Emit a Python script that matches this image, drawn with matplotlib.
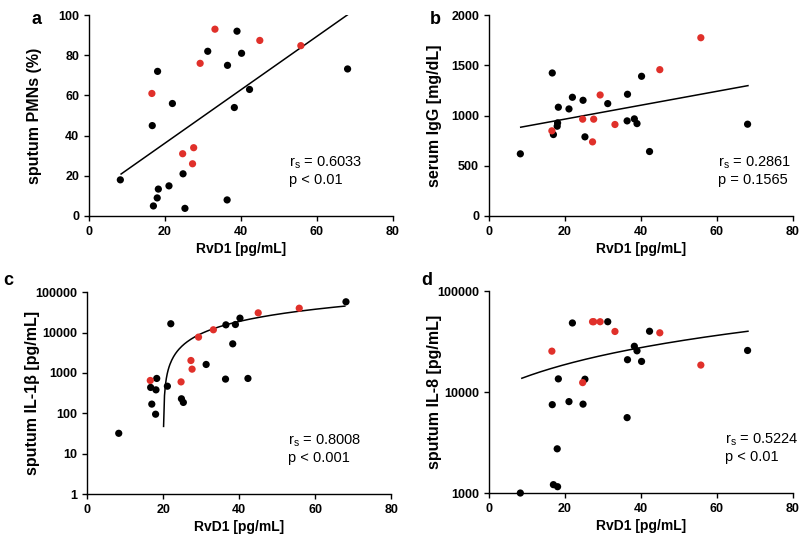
import numpy as np
import matplotlib
matplotlib.use("Agg")
import matplotlib.pyplot as plt

plt.rcParams["font.family"] = ["Liberation Sans", "DejaVu Sans"]

# RvD1 values (pg/mL) shared by all panels
rvd1_black = [8.3, 16.7, 17.0, 18.0, 18.1, 18.3, 21.1, 22.0, 24.8, 25.3,
              31.3, 36.4, 36.5, 38.3, 39.0, 40.2, 42.3, 68.1]
rvd1_red = [16.6, 24.7, 27.3, 27.6, 29.3, 33.2, 45.0, 55.8]

# panel a: sputum PMNs (%)
pmn_black = [18, 45, 5, 9, 72, 13.4, 15, 56, 21, 3.8,
             82, 8, 75, 54, 92, 81, 63, 73.2]
pmn_red = [61, 31, 26, 34, 76, 93, 87.4, 84.8]

# panel b: serum IgG (mg/dL)
igg_black = [619, 1424, 811, 894, 927, 1083, 1066, 1182, 1152, 788,
             1119, 947, 1212, 967, 920, 1391, 642, 914]
igg_red = [848, 964, 738, 964, 1205, 911, 1457, 1775]

# panel c: sputum IL-1b (pg/mL)
il1b_black = [32, 437, 169, 95, 381, 730, 469, 16500, 229, 186,
              1620, 703, 15500, 5250, 15800, 22700, 730, 57700]
il1b_red = [650, 600, 2030, 1240, 7700, 11700, 30700, 40000]

# panel d: sputum IL-8 (pg/mL)
il8_black = [1000, 7500, 1210, 2740, 1155, 13500, 8040, 48300, 7590, 13400,
             49700, 5580, 20900, 28400, 25600, 20100, 40000, 25800]
il8_red = [25400, 12400, 49700, 49700, 49700, 39800, 38600, 18500]

# linear fits: (slope, intercept, x start, x end)
fit_a = (1.33, 9.6, 8.5, 68.4)
fit_b = (6.92, 826, 8.4, 68.2)
fit_c = (944, -18927, 20.1, 67.8)
fit_d = (442, 9855, 8.7, 68.2)

RED = "#e0302a"

fig = plt.figure(figsize=(8, 5.4), dpi=100)
ax_a = fig.add_axes([0.111, 0.600, 0.380, 0.372])
ax_b = fig.add_axes([0.611, 0.600, 0.380, 0.372])
ax_c = fig.add_axes([0.109, 0.085, 0.380, 0.374])
ax_d = fig.add_axes([0.611, 0.087, 0.380, 0.374])

panels = [
    (ax_a, pmn_black, pmn_red, fit_a, "sputum PMNs (%)",
     ["r$_\\mathregular{s}$ = 0.6033", "p < 0.01"], 0.66),
    (ax_b, igg_black, igg_red, fit_b, "serum IgG [mg/dL]",
     ["r$_\\mathregular{s}$ = 0.2861", "p = 0.1565"], 0.753),
    (ax_c, il1b_black, il1b_red, fit_c, "sputum IL-1\u03b2 [pg/mL]",
     ["r$_\\mathregular{s}$ = 0.8008", "p < 0.001"], 0.66),
    (ax_d, il8_black, il8_red, fit_d, "sputum IL-8 [pg/mL]",
     ["r$_\\mathregular{s}$ = 0.5224", "p < 0.01"], 0.776),
]

for ax, yb, yr, fit, ylabel, note, nx in panels:
    k, b0, x0, x1 = fit
    xs = np.linspace(x0, x1, 200)
    ax.plot(xs, k * xs + b0, color="black", lw=1.1, zorder=2)
    ax.scatter(rvd1_black, yb, s=27, color="black", edgecolors="none",
               zorder=3, clip_on=False)
    ax.scatter(rvd1_red, yr, s=27, color=RED, edgecolors="none",
               zorder=3, clip_on=False)

    ax.set_xlim(0, 80)
    ax.set_xticks([0, 20, 40, 60, 80])
    ax.set_xlabel("RvD1 [pg/mL]", fontsize=10, fontweight="bold",
                  labelpad=3)
    ax.set_ylabel(ylabel, fontsize=11.5, fontweight="bold")
    ax.yaxis.set_label_coords(-0.155, 0.5)
    for sp in ["top", "right"]:
        ax.spines[sp].set_visible(False)
    for sp in ["left", "bottom"]:
        ax.spines[sp].set_linewidth(1.0)
    ax.tick_params(direction="out", length=3.5, width=1.0,
                   labelsize=9)

    ax.text(nx, 0.264, note[0], transform=ax.transAxes, fontsize=10.5,
            ha="left", va="center")
    ax.text(nx, 0.179, note[1], transform=ax.transAxes, fontsize=10.5,
            ha="left", va="center")

ax_a.set_ylim(0, 100)
ax_a.set_yticks([0, 20, 40, 60, 80, 100])
ax_b.set_ylim(0, 2000)
ax_b.set_yticks([0, 500, 1000, 1500, 2000])
ax_c.set_yscale("log")
ax_c.set_ylim(1, 100000)
ax_c.set_yticks([1, 10, 100, 1000, 10000, 100000])
ax_c.set_yticklabels(["1", "10", "100", "1000", "10000", "100000"])
ax_c.minorticks_off()
ax_d.set_yscale("log")
ax_d.set_ylim(1000, 100000)
ax_d.set_yticks([1000, 10000, 100000])
ax_d.set_yticklabels(["1000", "10000", "100000"])
ax_d.minorticks_off()

for ax in [ax_a, ax_b, ax_c, ax_d]:
    for lab in ax.get_xticklabels() + ax.get_yticklabels():
        lab.set_fontweight("bold")

fig.text(0.040, 0.980, "a", fontsize=13, fontweight="bold", va="top")
fig.text(0.537, 0.980, "b", fontsize=13, fontweight="bold", va="top")
fig.text(0.004, 0.496, "c", fontsize=13, fontweight="bold", va="top")
fig.text(0.527, 0.496, "d", fontsize=13, fontweight="bold", va="top")

fig.savefig("out.png", dpi=100)
